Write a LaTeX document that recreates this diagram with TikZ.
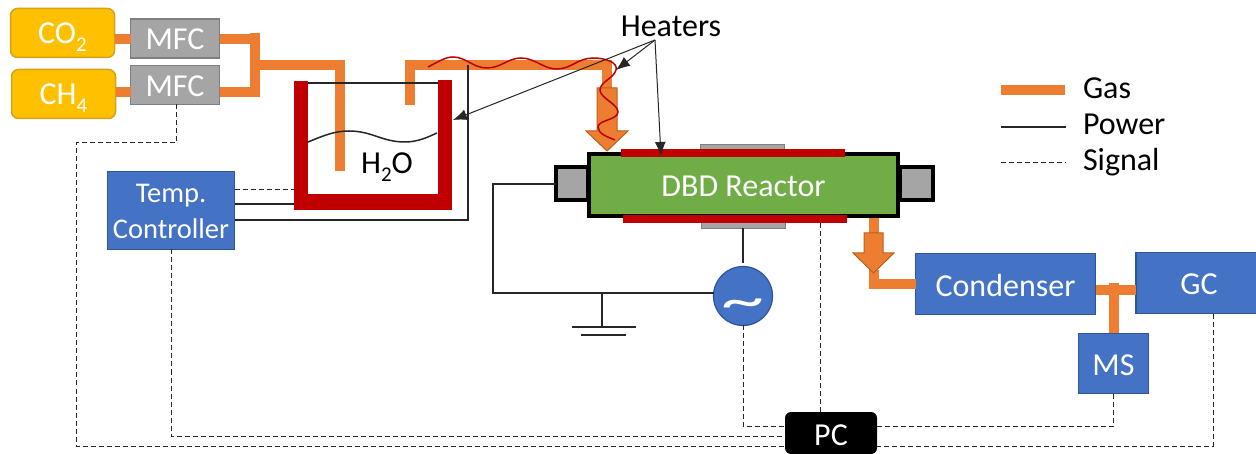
\documentclass[tikz,border=0pt]{standalone}
\usepackage{fontspec}
\setmainfont{Carlito}
\usetikzlibrary{arrows.meta}
\newcommand{\lowsub}[1]{\raisebox{-.26em}{\fontsize{21}{21}\selectfont #1}}
\newcommand{\dn}[2]{\raisebox{-#1pt}[\height][\depth]{#2}}
\definecolor{gasor}{HTML}{ED7D31}
\definecolor{gasedge}{HTML}{B8601F}
\definecolor{bluebox}{HTML}{4472C4}
\definecolor{blueedge}{HTML}{2F5597}
\definecolor{yell}{HTML}{FFC000}
\definecolor{yelledge}{HTML}{D6A21A}
\definecolor{grayb}{HTML}{A5A5A5}
\definecolor{grayedge}{HTML}{7F7F7F}
\definecolor{heat}{HTML}{C00000}
\definecolor{green}{HTML}{70AD47}
\tikzset{
  every node/.style={inner sep=0pt,outer sep=0pt,font=\fontsize{32}{36}\selectfont},
  box/.style={draw=blueedge,fill=bluebox,line width=1.2pt,text=white,rectangle},
  gasbox/.style={draw=yelledge,fill=yell,line width=1.5pt,text=white,rounded corners=7pt,rectangle},
  mfc/.style={draw=grayedge,fill=grayb,line width=1.2pt,text=white,rectangle},
  gas/.style={draw=gasor,line width=10pt},
  power/.style={draw=black!85,line width=1.5pt},
  signal/.style={draw=black!85,line width=1pt,dash pattern=on 5pt off 3pt},
  callout/.style={draw=black!85,line width=1pt,-{Latex[length=14pt,width=11pt]}},
  wire/.style={draw=heat,line width=1.5pt},
  blockarrow/.style={draw=gasedge,fill=gasor,line width=1pt},
  heaterbar/.style={fill=heat,draw=none},
  plate/.style={fill=grayb,draw=grayedge,line width=.8pt},
}
\begin{document}
\begin{tikzpicture}[x=1pt,y=-1pt]
\useasboundingbox (0,0) rectangle (1256,454);
% coordinates
\coordinate (j1) at (255,39);
\coordinate (j2) at (255,92);
\coordinate (j3) at (255,65);
\coordinate (dipin) at (340,171);
\coordinate (dipintop) at (340,65);
\coordinate (dipout) at (410,105);
\coordinate (dipouttop) at (410,65);
\coordinate (pipecorner) at (607,65);
\coordinate (pipeend) at (607,90);
\coordinate (outtop) at (874,216);
\coordinate (outend) at (874,235);
\coordinate (outb) at (874,270);
\coordinate (tee) at (1114,290);
\coordinate (sigmfc1) at (176,143);
\coordinate (sigmfc2) at (76,143);
\coordinate (sigbot) at (76,446);
\coordinate (pwrtop) at (468,65);
\coordinate (pwrbot) at (468,220);
\coordinate (wl) at (493,184);
\coordinate (wb) at (493,293);
\coordinate (gnd) at (602,293);
\coordinate (gnd1) at (602,327);
\coordinate (heatlab) at (655,40);
% nodes
\node[gasbox,minimum width=104pt,minimum height=49pt] (co2) at (62.5,33) {\dn{4}{CO\lowsub{2}}};
\node[gasbox,minimum width=104pt,minimum height=49pt] (ch4) at (63.5,94) {\dn{4}{CH\lowsub{4}}};
\node[mfc,minimum width=89pt,minimum height=39pt] (mfc1) at (175,38.5) {\dn{1}{MFC}};
\node[mfc,minimum width=89pt,minimum height=39pt] (mfc2) at (175,85) {\dn{1}{MFC}};
\node[box,minimum width=127pt,minimum height=78pt,align=center,font=\fontsize{28.5}{37}\selectfont] (temp) at (171,210.5) {\dn{1}{Temp.}\\Controller};
\node[box,minimum width=180pt,minimum height=61pt] (cond) at (1005.5,284) {\dn{2}{Condenser}};
\node[box,minimum width=126pt,minimum height=61pt] (gc) at (1199,283) {\dn{1}{GC}};
\node[box,minimum width=70pt,minimum height=60pt] (ms) at (1113.5,363.5) {\dn{2}{MS}};
\node[fill=black,text=white,rounded corners=6pt,minimum width=92pt,minimum height=42pt] (pc) at (831,433) {\dn{2}{PC}};
\node[box,circle,minimum size=59pt,font=\fontsize{72}{72}\selectfont] (ac) at (743,296) {\dn{13}{\scalebox{1.2}[.75]{\char"007E}}};
% gas pipes
\draw[gas] (ch4.east |- j2) -- (mfc2.west |- j2);
\draw[gas] (co2.east |- j1) -- (mfc1.west |- j1);
\draw[gas] (mfc1.east |- j1) -- (j1) ;
\draw[gas,line cap=butt] (255,33) -- (255,97);
\draw[gas] (mfc2.east |- j2) -- (j2);
\draw[gas] (j3) -- (dipintop) -- (dipin);
\draw[gas,line join=miter] (dipout) -- (dipouttop) -- (pipecorner) -- (pipeend);
\draw[gas] (outtop) -- (outend);
\draw[gas] (outb) |- (cond.west);
\draw[gas] (cond.east |- tee) -- (gc.west |- tee);
\draw[gas] (ms.north -| tee) -- (1114,283);
% block arrows
\draw[blockarrow] (597,88) -- (617,88) -- (617,131) -- (628,131) -- (607,151) -- (586,131) -- (597,131) -- cycle;
\draw[blockarrow] (864,233) -- (883,233) -- (883,253) -- (894,253) -- (873.5,273) -- (853,253) -- (864,253) -- cycle;
% vessel
\node[heaterbar,minimum width=14pt,minimum height=129pt] (vl) at (301,145.5) {};
\node[heaterbar,minimum width=14pt,minimum height=130pt] (vr) at (445,145) {};
\node[heaterbar,minimum width=158pt,minimum height=16pt] (vb) at (373,202) {};
\draw[power] (vl.east |- 0,83) -- (vr.west |- 0,83);
\draw[power] (308,142) .. controls (325,135) and (335,131) .. (349,131) .. controls (372,131) and (382,142) .. (405,142) .. controls (418,142) and (428,137) .. (437,133);
\node (h2o) at (387,166) {\dn{1}{H\lowsub{2}O}};
% reactor
\node[plate,minimum width=84pt,minimum height=6pt] (pt) at (742,147) {};
\node[plate,minimum width=84pt,minimum height=6pt] (pb) at (743,225) {};
\node[fill=grayb,draw=black,line width=4pt,minimum width=32pt,minimum height=33pt] (pl) at (572,183.5) {};
\node[fill=grayb,draw=black,line width=4pt,minimum width=33pt,minimum height=33pt] (pr) at (916,183.5) {};
\node[fill=green,draw=black,line width=4.5pt,minimum width=309pt,minimum height=62pt,text=white] (reactor) at (743.5,185) {\dn{1}{DBD Reactor}};
\node[heaterbar,minimum width=224pt,minimum height=8pt] (ht) at (733,153) {};
\node[heaterbar,minimum width=224pt,minimum height=8pt] (hb) at (735,219) {};
% power wires
\draw[power] (pl.west |- wl) -- (wl) -- (wb) -- (ac.west |- wb);
\draw[power] (gnd) -- (gnd1);
\draw[power] (572,327) -- (636,327);
\draw[power] (581,335) -- (626,335);
\draw[power] (pb.south) -- (743,263);
\draw[power] (temp.east |- 0,204) -- (vl.west |- 0,204);
\draw[power] (temp.east |- pwrbot) -- (pwrbot) -- (pwrtop);
% signals
\draw[signal] (temp.east |- 0,190) -- (vl.west |- 0,190);
\draw[signal] (mfc2.south -| sigmfc1) -- (sigmfc1) -- (sigmfc2) -- (sigbot) -- (pc.west |- sigbot);
\draw[signal] (temp.south) |- (pc.west |- 0,436);
\draw[signal] (ac.south) |- (pc.west |- 0,426);
\draw[signal] (820,223) -- (pc.north -| 820,0);
\draw[signal] (ms.south) |- (pc.east |- 0,426);
\draw[signal] (1213,314) |- (pc.east |- 0,446);
% heater wire
\draw[wire] (428,67) .. controls (438,62) and (445,57) .. (453,57) .. controls (466,57) and (473,68) .. (487,68) .. controls (501,68) and (508,58) .. (521,58) .. controls (535,58) and (543,69) .. (557,69) .. controls (571,69) and (578,58) .. (593,58) .. controls (605,58) and (618,62) .. (616,70) .. controls (614,78) and (600,82) .. (600,90) .. controls (600,98) and (618,104) .. (618,112) .. controls (618,120) and (598,120) .. (598,127) .. controls (598,134) and (608,137) .. (615,140);
% heaters label
\node (heaters) at (671,26) {Heaters};
\draw[callout] (heatlab) -- (453,120);
\draw[callout] (heatlab) -- (616,70);
\draw[callout] (heatlab) -- (661,156);
% legend
\coordinate (lg1) at (1001,90); \coordinate (lg2) at (1065,90);
\coordinate (lp1) at (1001,127); \coordinate (lp2) at (1066,127);
\coordinate (ls1) at (1001,163); \coordinate (ls2) at (1066,163);
\draw[gas] (lg1) -- (lg2);
\draw[power] (lp1) -- (lp2);
\draw[signal] (ls1) -- (ls2);
\node[anchor=west] (lgt) at (1083,88) {Gas};
\node[anchor=west] (lpt) at (1083,124) {Power};
\node[anchor=west] (lst) at (1083,162) {Signal};
\end{tikzpicture}
\end{document}
